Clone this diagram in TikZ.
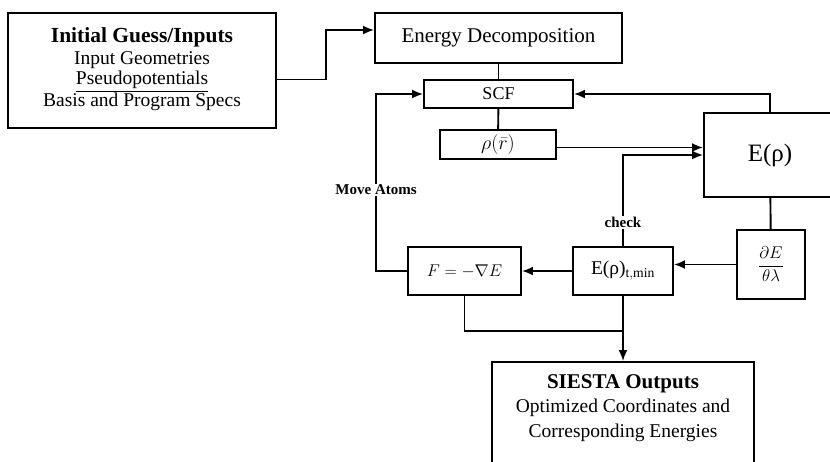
\RequirePackage{fix-cm}
\documentclass[tikz,border=0pt]{standalone}
\usepackage{amsmath, amssymb}
\usepackage{fontspec}
\setmainfont{Liberation Serif}
\newfontfamily\boxfont{Liberation Serif}
\usepackage{tikz}
\usetikzlibrary{arrows.meta, positioning}

\tikzset{
  block/.style={draw, line width=1.9pt, inner sep=2pt, align=center,
    font=\fontsize{19.5}{22}\selectfont},
  link/.style={line width=1.9pt},
  tag/.style={fill=white, inner sep=1pt, font=\bfseries\fontsize{15}{17}\selectfont},
}

\begin{document}
\begin{tikzpicture}[>={Latex[length=11pt,width=9pt]}, x=1pt, y=-1pt]
    % Khung trang
    \clip (0,0) rectangle (830,461);
    % Cac hop
    \node[block, minimum width=268pt, minimum height=115pt] (init) at (142,70.5) {};
    \node[align=center, font=\fontsize{19.5}{19.5}\selectfont] (inittext) at ([yshift=1.5pt]init.center)
        {{\bfseries\fontsize{21.5}{22}\selectfont Initial Guess/Inputs}\\[3pt]
         Input Geometries\\ \underline{Pseudopotentials}\\ Basis and Program Specs};
    \node[block, minimum width=247pt, minimum height=50pt,
        font=\fontsize{21}{24}\selectfont] (decomp) at (498.5,38) {Energy Decomposition};
    \node[block, minimum width=149pt, minimum height=28pt,
        font=\fontsize{18}{20}\selectfont] (scf) at (498.5,94) {SCF};
    \node[block, minimum width=116pt, minimum height=29pt,
        font=\fontsize{20}{22}\selectfont] (rho) at (498,144.5) {$\rho(\bar{r})$};
    \node[block, minimum width=132pt, minimum height=84pt,
        font=\boxfont\fontsize{25}{28}\selectfont] (erho) at (770,155) {E(ρ)};
    \node[block, minimum width=68pt, minimum height=69pt,
        font=\fontsize{17}{20}\selectfont] (grad) at (771,264.5)
        {$\dfrac{\partial E}{\theta\lambda}$};
    \node[block, minimum width=100pt, minimum height=48pt,
        font=\boxfont\fontsize{19.5}{24}\selectfont] (emin) at (623,271)
        {E(ρ)$_{\mathrm{t,min}}$};
    \node[block, minimum width=113pt, minimum height=48pt,
        font=\fontsize{17}{20}\selectfont] (force) at (464.5,271) {$F=-\nabla E$};
    \node[block, minimum width=262pt, minimum height=120pt] (out) at (623,422) {};
    \node[below=10pt of out.north, align=center, font=\fontsize{19.5}{24.5}\selectfont] (outtext)
        {{\bfseries\fontsize{21}{24.5}\selectfont SIESTA Outputs}\\
         Optimized Coordinates and\\ Corresponding Energies};

    % Cac mui ten
    \draw[link, ->] ([yshift=-9pt]init.east) -- ++(49,0) |- ([yshift=8pt]decomp.west);
    \draw[link] (decomp) -- (scf);
    \draw[link] (scf) -- (rho);
    \draw[link, ->] ([yshift=-3pt]rho.east) -- ([yshift=-3pt]rho.east -| erho.west);
    \draw[link, ->] (emin.north) |- node[tag, pos=0.13] (check) {check} (erho.west);
    \draw[link, ->] (erho.north) |- (scf.east);
    \draw[link] (erho) -- (grad);
    \draw[link, ->] (grad.west) -- (grad.west -| emin.east);
    \draw[link, ->] (emin) -- (force);
    \draw[link, ->] (force.west) -- ++(-31,0) |- node[tag, pos=0.23] (move) {Move Atoms} (scf.west);
    \draw[link] (force.south) -- ++(0,35) -| (emin.south);
    \draw[link, ->] (emin) -- (out);
\end{tikzpicture}
\end{document}
